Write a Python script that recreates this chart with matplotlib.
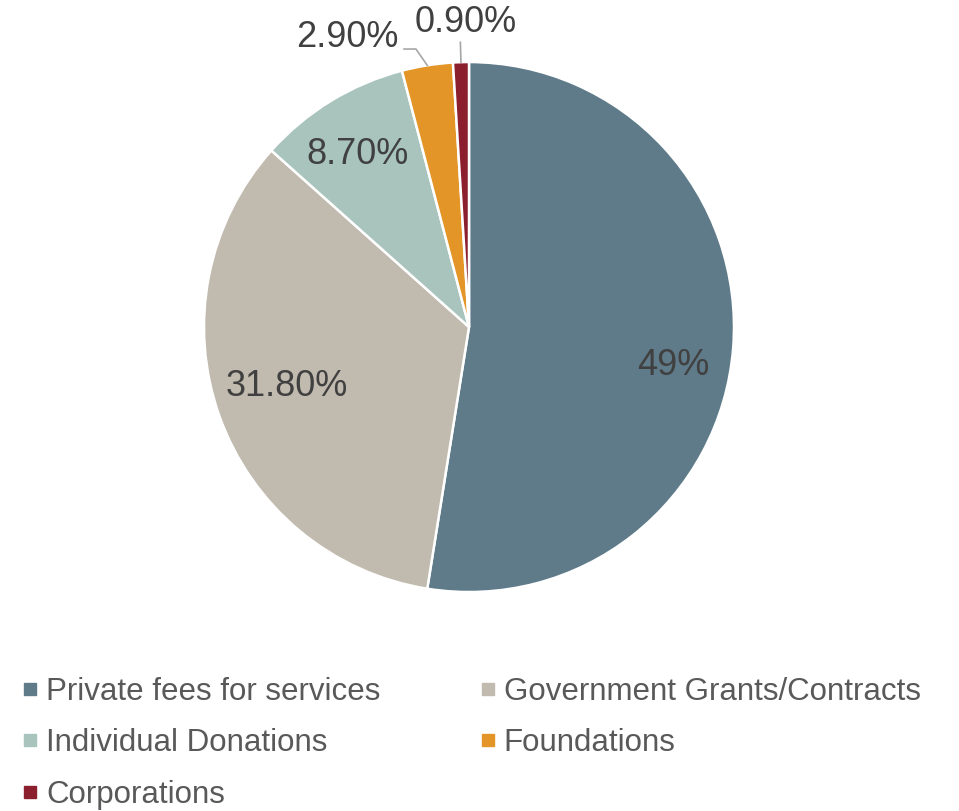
import numpy as np
import matplotlib
matplotlib.use("Agg")
import matplotlib.pyplot as plt
from matplotlib.lines import Line2D

plt.rcParams['font.family'] = ['Liberation Sans', 'DejaVu Sans']

categories = ["Private fees for services", "Government Grants/Contracts",
              "Individual Donations", "Foundations", "Corporations"]
values = [49.0, 31.8, 8.7, 2.9, 0.9]
labels = ["49%", "31.80%", "8.70%", "2.90%", "0.90%"]
colors = ["#5F7B8A", "#C1BAAF", "#A8C4BD", "#E39627", "#8B1F2E"]

fig = plt.figure(figsize=(9.59, 8.11), dpi=100)
ax = fig.add_axes([0.2127, 0.270, 0.5527, 0.6535])

wedges, _ = ax.pie(values, colors=colors, startangle=90, counterclock=False,
                   radius=1.0, wedgeprops=dict(edgecolor="white", linewidth=1.8))
ax.set_xlim(-1, 1)
ax.set_ylim(-1, 1)
ax.set_aspect("equal")
ax.axis("off")

label_color = "#404040"
leader_color = "#A6A6A6"
fs = 26

# inside labels: (radius, angle offset in degrees from wedge centre)
inside = {0: (0.785, -6.0), 1: (0.723, -1.5), 2: (0.775, 1.6)}
for i, (r, off) in inside.items():
    w = wedges[i]
    mid = np.deg2rad((w.theta1 + w.theta2) / 2 + off)
    ax.text(r * np.cos(mid), r * np.sin(mid), labels[i], ha="center", va="center",
            fontsize=fs, color=label_color)

# outside label with elbow leader for Foundations
w = wedges[3]
mid = np.deg2rad((w.theta1 + w.theta2) / 2)
p0 = (np.cos(mid), np.sin(mid))
p1 = (1.068 * np.cos(np.deg2rad(100.8)), 1.068 * np.sin(np.deg2rad(100.8)))
p2 = (p1[0] - 0.045, p1[1])
ax.plot([p0[0], p1[0], p2[0]], [p0[1], p1[1], p2[1]], color=leader_color, lw=1.2,
        clip_on=False)
ax.text(p2[0] - 0.02, 1.091, labels[3], ha="right", va="center",
        fontsize=fs, color=label_color)

# outside label with straight leader for Corporations
w = wedges[4]
mid = np.deg2rad((w.theta1 + w.theta2) / 2)
ax.plot([np.cos(mid), 1.075 * np.cos(mid)], [np.sin(mid), 1.075 * np.sin(mid)],
        color=leader_color, lw=1.2, clip_on=False)
ax.text(-0.011, 1.151, labels[4], ha="center", va="center",
        fontsize=fs, color=label_color)

# legend laid out row by row in two columns
order = [0, 2, 4, 1, 3]
handles = [Line2D([], [], marker="s", linestyle="none", markersize=8.6,
                  markerfacecolor=colors[i], markeredgecolor=colors[i]) for i in order]
leg = fig.legend(handles, [categories[i] for i in order], ncol=2,
                 loc="upper left", bbox_to_anchor=(0.0212, 0.1655),
                 frameon=False, fontsize=22.5, handlelength=0.6,
                 handletextpad=0.22, columnspacing=3.13, labelspacing=0.69,
                 borderaxespad=0, borderpad=0)
for t in leg.get_texts():
    t.set_color("#595959")

fig.savefig("out.png", dpi=100)
